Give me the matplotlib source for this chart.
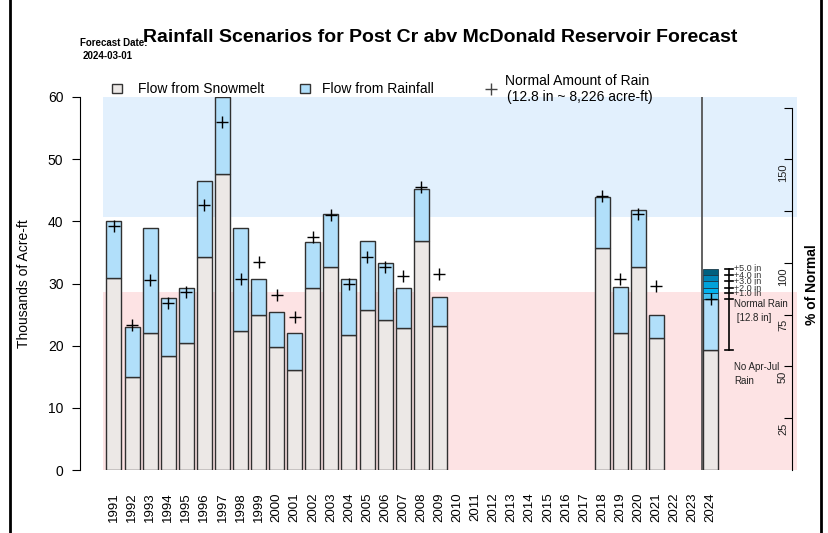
import matplotlib
matplotlib.use("Agg")
import matplotlib.pyplot as plt
from matplotlib.lines import Line2D

plt.rcParams['font.family'] = ['Liberation Sans', 'DejaVu Sans']

# ---------------- data (thousands of acre-ft) ----------------
years = list(range(1991, 2025))
snowmelt = [30.9, 14.9, 22.1, 18.4, 20.4, 34.2, 47.6, 22.3, 25.0, 19.8,
            16.1, 29.2, 32.6, 21.7, 25.7, 24.1, 22.8, 36.9, 23.2,
            None, None, None, None, None, None, None, None,
            35.7, 22.1, 32.6, 21.3, None, None, None]
total = [40.0, 22.95, 38.9, 27.7, 29.3, 46.5, 60.0, 39.0, 30.7, 25.4,
         22.0, 36.6, 41.1, 30.7, 36.9, 33.3, 29.2, 45.2, 27.8,
         None, None, None, None, None, None, None, None,
         43.9, 29.4, 41.9, 25.0, None, None, None]
normal_rain_total = [39.2, 23.3, 30.5, 26.8, 28.7, 42.6, 55.9, 30.8, 33.4, 28.1,
                     24.6, 37.5, 41.0, 30.0, 34.2, 32.7, 31.2, 45.5, 31.5,
                     None, None, None, None, None, None, None, None,
                     44.1, 30.7, 41.1, 29.6, None, None, None]

# 2024 forecast scenarios
fc_year = 2024
fc_no_rain = 19.3
fc_normal = 27.55
fc_scen_labels = ["+1.0 in", "+2.0 in", "+3.0 in", "+4.0 in", "+5.0 in"]
fc_scen_values = [28.4, 29.2, 30.4, 31.3, 32.4]
fc_scen_colors = ["#45C0F0", "#00B2F0", "#00A2DA", "#0086B8", "#00607F"]

pct_base = 33.3          # value corresponding to 100 % of normal
blue_band = (40.7, 60.0)
pink_band = (0.0, 28.6)
right_ticks = [25, 50, 75, 100, 125, 150, 175]
right_labels = ["25", "50", "75", "100", "", "150", ""]
yticks = [0, 10, 20, 30, 40, 50, 60]

# ---------------- figure ----------------
W, H = 829, 533
fig = plt.figure(figsize=(W / 100, H / 100), dpi=100)
ax_l, ax_r, ax_t, ax_b = 103, 797, 97, 470
ax = fig.add_axes([ax_l / W, 1 - ax_b / H, (ax_r - ax_l) / W, (ax_b - ax_t) / H])

ppy = 18.08
x0 = 1991 - (114 - ax_l) / ppy
x1 = 2024 + (ax_r - 710.5) / ppy
ax.set_xlim(x0, x1)
ax.set_ylim(0, 60)

ax.axhspan(*blue_band, color="#E2F0FD", zorder=0, lw=0)
ax.axhspan(*pink_band, color="#FDE3E4", zorder=0, lw=0)

bw = 0.83
gray = "#ECE8E6"
lblue = "#B1DFFA"
edge = "#303030"
for y, s, t, n in zip(years, snowmelt, total, normal_rain_total):
    if s is None:
        continue
    ax.bar(y, s, width=bw, color=gray, edgecolor=edge, lw=1, zorder=2)
    ax.bar(y, t - s, bottom=s, width=bw, color=lblue, edgecolor=edge, lw=1, zorder=2)
    ax.plot(y, n, marker='+', ms=9, mew=1.0, color='black', ls='none', zorder=3)

# forecast bar
ax.bar(fc_year, fc_no_rain, width=bw, color=gray, edgecolor=edge, lw=1, zorder=2)
ax.bar(fc_year, fc_normal - fc_no_rain, bottom=fc_no_rain, width=bw, color=lblue,
       edgecolor=edge, lw=1, zorder=2)
prev = fc_normal
for v, c in zip(fc_scen_values, fc_scen_colors):
    ax.bar(fc_year, v - prev, bottom=prev, width=bw, color=c, edgecolor="#1a3a4a",
           lw=0.6, zorder=2)
    prev = v
ax.plot(fc_year, fc_normal, marker='+', ms=9, mew=1.0, color='black', zorder=3)

# separator line
ax.axvline(fc_year - 0.47, color="#555555", lw=1.3, zorder=1)

# whisker
wx = fc_year + (729 - 710.5) / ppy
ax.plot([wx, wx], [fc_no_rain, fc_scen_values[-1]], color='black', lw=1.2, zorder=3)
tick_vals = [fc_no_rain, fc_normal] + fc_scen_values
for v in tick_vals:
    ax.plot([wx - 0.22, wx + 0.22], [v, v], color='black', lw=1.2, zorder=3)
lx = wx + 0.3
for lab, v in zip(fc_scen_labels, fc_scen_values):
    ax.text(lx, v, lab, fontsize=6.5, va='center', ha='left', color="#333333", zorder=4)
ax.text(lx, fc_normal, "Normal Rain\n [12.8 in]", fontsize=7, va='top', ha='left',
        linespacing=1.5, color="#222222")
ax.text(lx, fc_no_rain - 2.0, "No Apr-Jul\nRain", fontsize=7, va='top', ha='left',
        linespacing=1.5, color="#222222")

# axes styling
for sp in ['top', 'right', 'bottom']:
    ax.spines[sp].set_visible(False)
ax.spines['left'].set_position(('outward', 16.5))
ax.spines['left'].set_bounds(0, 60)
ax.set_yticks(yticks)
ax.tick_params(axis='y', length=6, labelsize=10, pad=6)
ax.set_xticks(years)
ax.set_xticklabels([str(y) for y in years], rotation=90, fontsize=9.5)
ax.tick_params(axis='x', length=0, pad=16)
ax.set_ylabel("Thousands of Acre-ft", fontsize=10, labelpad=12)

# right axis: % of normal
ax2 = ax.twinx()
ax2.set_ylim(0, 60 / pct_base * 100)
ax2.set_xlim(x0, x1)
for sp in ['top', 'left', 'bottom']:
    ax2.spines[sp].set_visible(False)
rx = (792 - ax_l) / (ax_r - ax_l)
ax2.spines['right'].set_position(('axes', rx))
ax2.spines['right'].set_bounds(0, 175)
ax2.set_yticks(right_ticks)
ax2.set_yticklabels([])
ax2.tick_params(axis='y', direction='in', length=6)
lab_x = (783 - ax_l) / (ax_r - ax_l)
for t, lab in zip(right_ticks, right_labels):
    if lab:
        ax2.annotate(lab, xy=(lab_x, t), xycoords=('axes fraction', 'data'),
                     xytext=(0, -3), textcoords='offset points',
                     rotation=90, ha='center', va='top', fontsize=8, color="#222222")
fig.text(812 / W, 1 - 285 / H, "% of Normal", rotation=90, fontsize=10,
         fontweight='bold', ha='center', va='center')

# title & date
fig.text(440 / W, 1 - 37 / H, "Rainfall Scenarios for Post Cr abv McDonald Reservoir Forecast",
         fontsize=14.0, fontweight='bold', ha='center', va='center')
fig.text(80 / W, 1 - 43 / H, "Forecast Date:", fontsize=7, fontweight='bold', ha='left', va='center')
fig.text(83 / W, 1 - 56 / H, "2024-03-01", fontsize=7, fontweight='bold', ha='left', va='center')

# legend
fig.patches.append(plt.Rectangle((112 / W, 1 - 93 / H), 10 / W, 9 / H, transform=fig.transFigure,
                                 facecolor=gray, edgecolor="#333333", lw=1))
fig.text(138 / W, 1 - 89 / H, "Flow from Snowmelt", fontsize=10, va='center', ha='left')
fig.patches.append(plt.Rectangle((300 / W, 1 - 93 / H), 10 / W, 9 / H, transform=fig.transFigure,
                                 facecolor=lblue, edgecolor="#333333", lw=1))
fig.text(322 / W, 1 - 89 / H, "Flow from Rainfall", fontsize=10, va='center', ha='left')
fig.lines.append(Line2D([491 / W], [1 - 89 / H], marker='+', ms=8, color='#444444',
                        transform=fig.transFigure))
fig.text(505 / W, 1 - 81 / H, "Normal Amount of Rain", fontsize=10, va='center', ha='left')
fig.text(507 / W, 1 - 97 / H, "(12.8 in ~ 8,226 acre-ft)", fontsize=10, va='center', ha='left')

# window border lines
fig.lines.append(Line2D([10 / W, 10 / W], [0, 1], color='black', lw=2, transform=fig.transFigure))
fig.lines.append(Line2D([821 / W, 821 / W], [0, 1], color='black', lw=2, transform=fig.transFigure))

fig.savefig("out.png", dpi=100)
